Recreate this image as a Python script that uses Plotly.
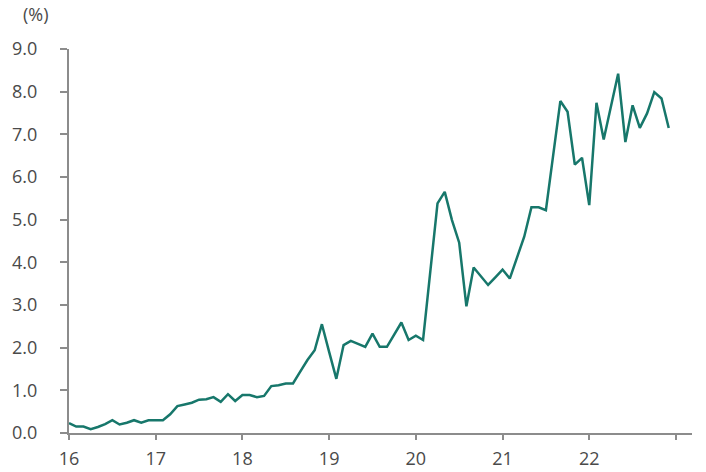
import plotly.graph_objects as go

start_year = 2016
values = [
    0.23, 0.15, 0.15, 0.09, 0.14, 0.21, 0.30, 0.20, 0.24, 0.30, 0.24, 0.30,   # 2016
    0.30, 0.30, 0.44, 0.63, 0.67, 0.71, 0.78, 0.79, 0.84, 0.73, 0.91, 0.75,   # 2017
    0.89, 0.89, 0.84, 0.87, 1.10, 1.12, 1.16, 1.16, 1.44, 1.71, 1.94, 2.55,   # 2018
    1.90, 1.27, 2.06, 2.16, 2.09, 2.02, 2.33, 2.02, 2.02, 2.30, 2.59, 2.18,   # 2019
    2.28, 2.18, 3.80, 5.38, 5.65, 4.99, 4.46, 2.97, 3.88, 3.68, 3.47, 3.65,   # 2020
    3.83, 3.62, 4.10, 4.60, 5.29, 5.29, 5.22, 6.50, 7.78, 7.53, 6.29, 6.45,   # 2021
    5.34, 7.74, 6.88, 7.65, 8.42, 6.82, 7.68, 7.15, 7.49, 7.99, 7.84, 7.15,   # 2022
]
x_vals = [start_year + i / 12 for i in range(len(values))]

x_tickvals = [2016, 2017, 2018, 2019, 2020, 2021, 2022, 2023]
x_ticktext = ["16", "17", "18", "19", "20", "21", "22", ""]
y_tickvals = [0, 1, 2, 3, 4, 5, 6, 7, 8, 9]
y_ticktext = [f"{v:.1f}" for v in y_tickvals]

axis_color = "#8c8c8c"
text_color = "#4a4a4a"
font_family = "Open Sans, Noto Sans, sans-serif"

fig = go.Figure()
fig.add_trace(go.Scatter(
    x=x_vals, y=values, mode="lines",
    line=dict(color="#17776b", width=2.5),
    hoverinfo="skip",
))

fig.update_layout(
    width=706, height=472,
    margin=dict(l=69, r=14, t=49, b=39, autoexpand=False),
    paper_bgcolor="white", plot_bgcolor="white",
    showlegend=False,
    font=dict(family=font_family, size=18, color=text_color),
    xaxis=dict(
        range=[2016, 2023.185],
        tickvals=x_tickvals, ticktext=x_ticktext,
        showgrid=False, zeroline=False, automargin=False,
        showline=True, linecolor=axis_color, linewidth=2,
        ticks="outside", ticklen=5, tickwidth=2, tickcolor=axis_color,
        tickfont=dict(size=18, color=text_color),
        ticklabelstandoff=3,
    ),
    yaxis=dict(
        range=[0, 9],
        tickvals=y_tickvals, ticktext=y_ticktext,
        showgrid=False, zeroline=False, automargin=False,
        showline=True, linecolor=axis_color, linewidth=2,
        ticks="outside", ticklen=7, tickwidth=2, tickcolor=axis_color,
        tickfont=dict(size=18, color=text_color),
        ticklabelstandoff=19,
    ),
    annotations=[dict(
        text="(%)", xref="paper", yref="paper",
        x=-0.077, y=1.0, yshift=35, xanchor="left", yanchor="middle",
        showarrow=False, font=dict(size=18, color=text_color),
    )],
)

fig.write_html(
    "out.html",
    config={"displayModeBar": False},
    post_script="document.body.style.margin='0';document.body.style.overflow='hidden';",
)
